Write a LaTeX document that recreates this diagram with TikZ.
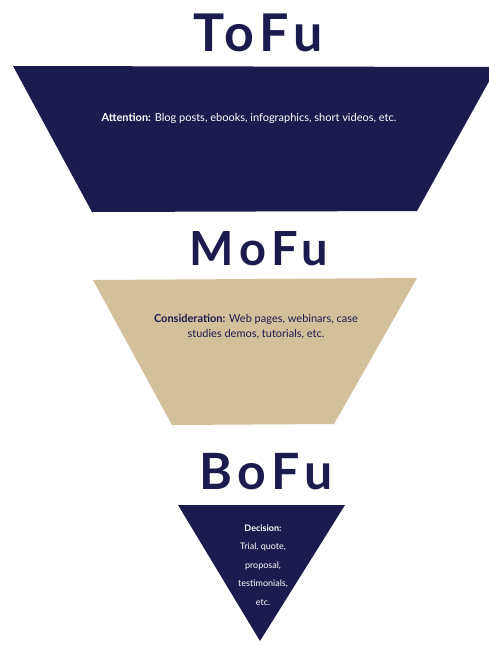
\documentclass[tikz,border=0pt]{standalone}
\usepackage{fontspec}
\setmainfont{Lato}
\newfontfamily\headfont[LetterSpace=12]{Lato}
\definecolor{navy}{HTML}{1C1B4D}
\definecolor{sand}{HTML}{D3C09B}
\tikzset{
  head/.style={font=\headfont\fontsize{#1}{#1}\selectfont\bfseries, text=navy, inner sep=0pt, anchor=base},
}
\begin{document}
\begin{tikzpicture}[x=1pt,y=-1pt]
  \useasboundingbox (0,0) rectangle (489,646);
  \clip (0,0) rectangle (489,646);
  \fill[white] (0,0) rectangle (489,646);

  % top of the funnel
  \node[head=52] (tofu) at (258,51) {ToFu};
  \fill[navy] (13,66) -- (497,67) -- (417,211) -- (92,212) -- cycle;
  \node[align=center, inner sep=0pt, text=white, font=\fontsize{11}{13}\selectfont] (att) at (249,118)
    {\textbf{Attention:} Blog posts, ebooks, infographics, short videos, etc.};

  % middle of the funnel
  \node[head=47] (mofu) at (259,265) {MoFu};
  \fill[sand] (93,280) -- (417,278) -- (334,424) -- (172,425) -- cycle;
  \node[align=center, inner sep=0pt, text=navy, font=\fontsize{11}{15}\selectfont] (cons) at (256,327)
    {\textbf{Consideration:} Web pages, webinars, case\\studies demos, tutorials, etc.};

  % bottom of the funnel
  \node[head=50] (bofu) at (266,489) {BoFu};
  \fill[navy] (178,505) -- (345,505) -- (260,641) -- cycle;
  \node[align=center, inner sep=0pt, text=white,
        font=\fontsize{9}{18.6}\selectfont] (dec) at (263,565)
    {\textbf{Decision:}\\Trial, quote,\\proposal,\\testimonials,\\etc.};
\end{tikzpicture}
\end{document}
